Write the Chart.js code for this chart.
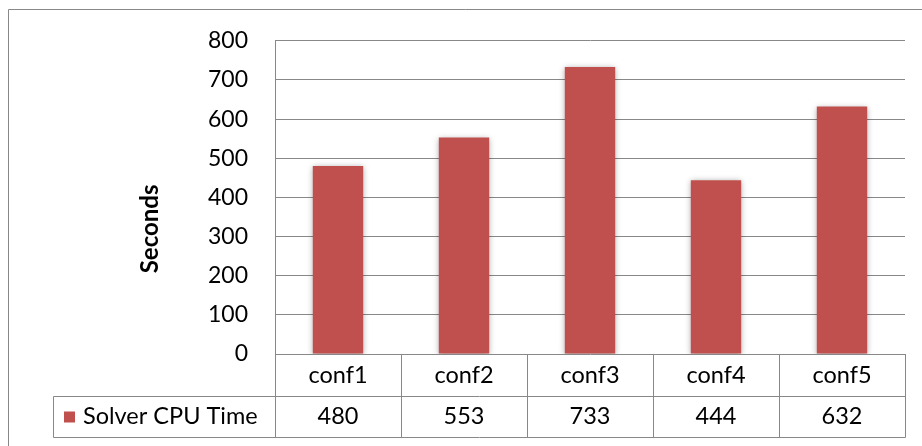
<!DOCTYPE html>
<html>
<head>
<meta charset="utf-8">
<script src="https://cdn.jsdelivr.net/npm/chart.js@4.4.1/dist/chart.umd.min.js"></script>
<style>
  html, body { margin: 0; padding: 0; background: #fff; }
  #wrap { width: 922px; height: 446px; }
</style>
</head>
<body>
<div id="wrap"><canvas id="c" width="922" height="446"></canvas></div>
<script>
// Solver run times per configuration
const categories = ['conf1', 'conf2', 'conf3', 'conf4', 'conf5'];
const seriesName = 'Solver CPU Time';
const cpuSeconds = [480, 553, 733, 444, 632];
const axisTitle = 'Seconds';
const yMin = 0, yMax = 800, yStep = 100;

const FONT = 'Lato, "Open Sans", sans-serif';
const LINE = '#888888';
const BAR = '#C0504D';

// soft drop shadow under the columns
const barShadow = {
  id: 'barShadow',
  beforeDatasetsDraw(chart) {
    const ctx = chart.ctx;
    ctx.save();
    ctx.shadowColor = 'rgba(0,0,0,0.35)';
    ctx.shadowBlur = 6;
    ctx.shadowOffsetY = 1;
  },
  afterDatasetsDraw(chart) {
    chart.ctx.restore();
  }
};

// frame, axis title and the data table under the plot
const dataTable = {
  id: 'dataTable',
  afterDraw(chart) {
    const ctx = chart.ctx;
    const area = chart.chartArea;
    const xs = chart.scales.x;
    const n = categories.length;
    const colW = (area.right - area.left) / n;
    const row1Top = area.bottom;
    const row2Top = row1Top + 42;
    const tableBottom = row2Top + 41;
    const legendLeft = 53.5;

    ctx.save();
    ctx.strokeStyle = LINE;
    ctx.lineWidth = 1;

    // outer frame (top and left edges)
    ctx.beginPath();
    ctx.moveTo(8.5, chart.height + 2);
    ctx.lineTo(8.5, 9.5);
    ctx.lineTo(chart.width + 2, 9.5);
    ctx.stroke();

    // table grid
    const L = Math.round(area.left) + 0.5;
    const R = Math.round(area.right) + 0.5;
    ctx.beginPath();
    // axis line continues down through the table
    ctx.moveTo(L, row1Top);
    ctx.lineTo(L, tableBottom + 0.5);
    // vertical separators
    for (let i = 1; i <= n; i++) {
      const x = Math.round(area.left + i * colW) + 0.5;
      ctx.moveTo(x, row1Top);
      ctx.lineTo(x, tableBottom + 0.5);
    }
    // legend cell border and row lines
    ctx.moveTo(legendLeft, Math.round(row2Top) + 0.5);
    ctx.lineTo(R, Math.round(row2Top) + 0.5);
    ctx.moveTo(legendLeft, Math.round(tableBottom) + 0.5);
    ctx.lineTo(R, Math.round(tableBottom) + 0.5);
    ctx.moveTo(legendLeft, Math.round(row2Top) + 0.5);
    ctx.lineTo(legendLeft, Math.round(tableBottom) + 0.5);
    ctx.stroke();

    // cell texts
    ctx.fillStyle = '#000';
    ctx.font = '23.5px ' + FONT;
    ctx.textAlign = 'center';
    ctx.textBaseline = 'middle';
    const r1 = (row1Top + row2Top) / 2;
    const r2 = (row2Top + tableBottom) / 2;
    categories.forEach((c, i) => {
      const cx = xs.getPixelForValue(i);
      ctx.fillText(c, cx, r1);
      ctx.fillText(String(cpuSeconds[i]), cx, r2);
    });

    // legend key + series name
    ctx.fillStyle = BAR;
    ctx.fillRect(64, r2 - 5, 11, 11);
    ctx.fillStyle = '#000';
    ctx.textAlign = 'left';
    ctx.fillText(seriesName, 83, r2);

    // vertical axis title
    ctx.translate(150, (area.top + tableBottom) / 2 - 10);
    ctx.rotate(-Math.PI / 2);
    ctx.textAlign = 'center';
    ctx.font = 'bold 24px ' + FONT;
    ctx.fillText(axisTitle, 0, 0);
    ctx.restore();
  }
};

new Chart(document.getElementById('c'), {
  type: 'bar',
  data: {
    labels: categories,
    datasets: [{
      label: seriesName,
      data: cpuSeconds,
      backgroundColor: BAR,
      borderWidth: 0,
      categoryPercentage: 0.8,
      barPercentage: 0.5
    }]
  },
  options: {
    responsive: false,
    devicePixelRatio: 1,
    animation: false,
    layout: { padding: { top: 39, right: 17, bottom: 92, left: 0 } },
    plugins: {
      legend: { display: false },
      tooltip: { enabled: false },
      title: { display: false }
    },
    scales: {
      x: { display: false },
      y: {
        min: yMin,
        max: yMax,
        ticks: {
          stepSize: yStep,
          color: '#000',
          font: { family: FONT, size: 23 },
          padding: 27
        },
        grid: { color: LINE, drawTicks: false, lineWidth: 1 },
        border: { color: LINE, width: 1 },
        afterFit(axis) { axis.width = 275; }
      }
    }
  },
  plugins: [barShadow, dataTable]
});
</script>
</body>
</html>
